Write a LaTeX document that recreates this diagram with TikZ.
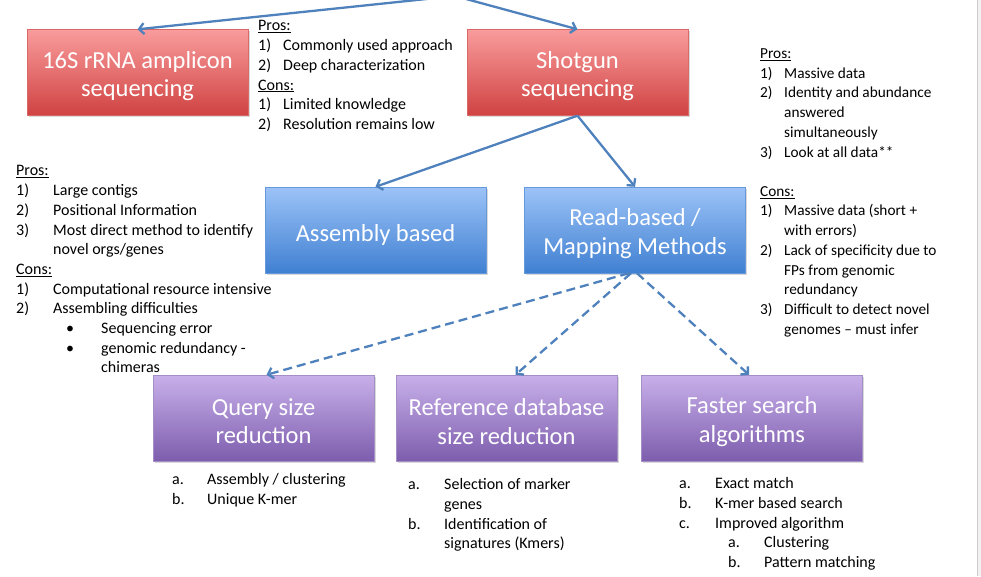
\documentclass[tikz,border=0pt]{standalone}
\usepackage{fontspec}
\setmainfont{Carlito}
\usetikzlibrary{arrows.meta,shadows}

\definecolor{redtop}{HTML}{F99C9C}
\definecolor{redbot}{HTML}{D04242}
\definecolor{bluetop}{HTML}{9CC3F7}
\definecolor{bluebot}{HTML}{4080D2}
\definecolor{purptop}{HTML}{C8B0EA}
\definecolor{purpbot}{HTML}{7D5DAD}
\definecolor{linkblue}{HTML}{4F81BD}

\newcommand\itemlbl[2]{\makebox[#1][l]{#2}}

\begin{document}
\begin{tikzpicture}[x=1pt,y=-1pt,
  box/.style={minimum width=221pt,minimum height=86pt,inner sep=0pt,
    drop shadow={opacity=0.3,shadow xshift=1.5pt,shadow yshift=-1.5pt}},
  boxtext/.style={text=white,align=center,inner sep=0pt,yshift=-3.5pt,
    font=\fontsize{24.5}{28.2}\selectfont},
  redbox/.style={box,draw=redbot!80!white,top color=redtop,bottom color=redbot},
  bluebox/.style={box,draw=bluebot!80!white,top color=bluetop,bottom color=bluebot},
  purpbox/.style={box,draw=purpbot!70!white,top color=purptop,bottom color=purpbot},
  link/.style={draw=linkblue,line width=2.3pt,-{Straight Barb[length=5pt,width=11pt]}},
  dlink/.style={link,dash pattern=on 9pt off 5pt},
  notes/.style={anchor=north west,inner sep=0pt,align=left,
    font=\fontsize{16}{19.7}\selectfont,execute at begin node=\strut,yshift=9.5pt}]
\useasboundingbox (0,0) rectangle (981,576);
% page edge on the right
\fill [black!5] (977,0) rectangle (981,576);
\draw [black!20] (977,0) -- (977,576);

% boxes
\node [redbox,label={[boxtext]center:{16S rRNA amplicon\\sequencing}}] (s16) at (137.5,72.5) {};
\node [redbox,label={[boxtext]center:{Shotgun\\sequencing}}] (shotgun) at (577.5,72.5) {};
\node [bluebox,label={[boxtext,yshift=-1pt]center:{Assembly based}}] (assembly) at (375.5,230) {};
\node [bluebox,label={[boxtext]center:{Read-based /\\Mapping Methods}}] (read) at (635,230) {};
\node [purpbox,label={[boxtext]center:{Query size\\reduction}}] (query) at (263.5,418) {};
\node [purpbox,label={[boxtext]center:{Reference database\\size reduction}}] (refdb) at (506.5,418) {};
\node [purpbox,label={[boxtext]center:{Faster search\\algorithms}}] (faster) at (752,418) {};

% arrows
\coordinate (root) at (455,-4);
\draw [link] (root) -- (s16.north);
\draw [link] (root) -- (shotgun.north);
\draw [link] (shotgun.south) -- (assembly.north);
\draw [link] (shotgun.south) -- (read.north);
\draw [dlink] ([xshift=-6pt]read.south) -- ([xshift=3pt]query.north);
\draw [dlink] ([xshift=-4pt]read.south) -- ([xshift=9pt]refdb.north);
\draw [dlink] ([xshift=2pt]read.south) -- ([xshift=-3pt]faster.north);

% pros and cons
\node [notes] (notes16) at (258,30) {\underline{Pros:}\\
  \itemlbl{25pt}{1)}Commonly used approach\\
  \itemlbl{25pt}{2)}Deep characterization\\
  \underline{Cons:}\\
  \itemlbl{25pt}{1)}Limited knowledge\\
  \itemlbl{25pt}{2)}Resolution remains low};
\node [notes,font=\fontsize{15.3}{19.7}\selectfont] (notesshot) at (760,58) {\underline{Pros:}\\
  \itemlbl{24pt}{1)}Massive data\\
  \itemlbl{24pt}{2)}Identity and abundance\\
  \hspace*{24pt}answered\\
  \hspace*{24pt}simultaneously\\
  \itemlbl{24pt}{3)}Look at all data**\\[19.5pt]
  \underline{Cons:}\\
  \itemlbl{24pt}{1)}Massive data (short +\\
  \hspace*{24pt}with errors)\\
  \itemlbl{24pt}{2)}Lack of specificity due to\\
  \hspace*{24pt}FPs from genomic\\
  \hspace*{24pt}redundancy\\
  \itemlbl{24pt}{3)}Difficult to detect novel\\
  \hspace*{24pt}genomes -- must infer};
\node [notes] (notesasm) at (16,175) {\underline{Pros:}\\
  \itemlbl{37pt}{1)}Large contigs\\
  \itemlbl{37pt}{2)}Positional Information\\
  \itemlbl{37pt}{3)}Most direct method to identify\\
  \hspace*{37pt}novel orgs/genes\\
  \underline{Cons:}\\
  \itemlbl{37pt}{1)}Computational resource intensive\\
  \itemlbl{37pt}{2)}Assembling difficulties\\
  \hspace*{50pt}\itemlbl{35pt}{\textbullet}Sequencing error\\
  \hspace*{50pt}\itemlbl{35pt}{\textbullet}genomic redundancy -\\
  \hspace*{85pt}chimeras};

% methods
\node [notes] (notesquery) at (172,483) {\itemlbl{35pt}{a.}Assembly / clustering\\
  \itemlbl{35pt}{b.}Unique K-mer};
\node [notes] (notesref) at (408,488) {\itemlbl{36pt}{a.}Selection of marker\\
  \hspace*{36pt}genes\\
  \itemlbl{36pt}{b.}Identification of\\
  \hspace*{36pt}signatures (Kmers)};
\node [notes] (notesfast) at (679,487) {\itemlbl{36pt}{a.}Exact match\\
  \itemlbl{36pt}{b.}K-mer based search\\
  \itemlbl{36pt}{c.}Improved algorithm\\
  \hspace*{49pt}\itemlbl{36pt}{a.}Clustering\\
  \hspace*{49pt}\itemlbl{36pt}{b.}Pattern matching};
\end{tikzpicture}
\end{document}
